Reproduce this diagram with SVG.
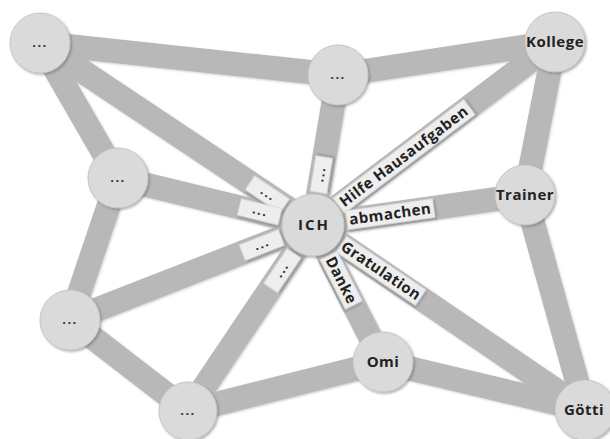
<svg xmlns="http://www.w3.org/2000/svg" width="610" height="439" viewBox="0 0 610 439">
<defs>
<filter id="sh" x="-20%" y="-20%" width="150%" height="150%">
<feDropShadow dx="1.5" dy="1.5" stdDeviation="1.2" flood-color="#555" flood-opacity="0.45"/>
</filter>
<filter id="esh" x="-5%" y="-5%" width="110%" height="110%">
<feDropShadow dx="1" dy="1" stdDeviation="1" flood-color="#777" flood-opacity="0.35"/>
</filter>
</defs>
<style>
.e{stroke:#b8b8b8;stroke-width:24;stroke-linecap:butt;fill:none}
.n{fill:#dadada;stroke:#c6c6c6;stroke-width:1}
.t{font-family:"Open Sans","DejaVu Sans",sans-serif;font-weight:700;font-size:15px;fill:#222;letter-spacing:0.5px;text-anchor:middle}
.d{font-family:"Open Sans","DejaVu Sans",sans-serif;font-weight:700;font-size:13px;fill:#333;letter-spacing:1.5px;text-anchor:middle}
.lb{fill:#eeeeee;stroke:#d4d4d4;stroke-width:0.6}
</style>
<rect width="610" height="439" fill="#ffffff"/>
<g id="connectors" filter="url(#esh)">
<line class="e" x1="40" y1="43" x2="338" y2="75"/>
<line class="e" x1="40" y1="43" x2="118" y2="178"/>
<line class="e" x1="40" y1="43" x2="313" y2="225"/>
<line class="e" x1="338" y1="75" x2="555" y2="42"/>
<line class="e" x1="338" y1="75" x2="313" y2="225"/>
<line class="e" x1="555" y1="42" x2="313" y2="225"/>
<line class="e" x1="555" y1="42" x2="525" y2="195"/>
<line class="e" x1="525" y1="195" x2="313" y2="225"/>
<line class="e" x1="525" y1="195" x2="585" y2="410"/>
<line class="e" x1="118" y1="178" x2="313" y2="225"/>
<line class="e" x1="118" y1="178" x2="70" y2="320"/>
<line class="e" x1="70" y1="320" x2="313" y2="225"/>
<line class="e" x1="70" y1="320" x2="188" y2="411"/>
<line class="e" x1="188" y1="411" x2="313" y2="225"/>
<line class="e" x1="188" y1="411" x2="383" y2="362"/>
<line class="e" x1="383" y1="362" x2="313" y2="225"/>
<line class="e" x1="383" y1="362" x2="585" y2="410"/>
<line class="e" x1="313" y1="225" x2="585" y2="410"/>
</g>
<g id="edge-labels">
<g id="lbl-hilfe" transform="translate(313,225) rotate(-37)">
<rect class="lb" filter="url(#sh)" x="32" y="-9.5" width="164" height="19"/>
<text class="t" x="114" y="5">Hilfe Hausaufgaben</text>
</g>
<g id="lbl-abmachen" transform="translate(313,225) rotate(-8)">
<rect class="lb" filter="url(#sh)" x="34" y="-9.5" width="88" height="19"/>
<text class="t" x="78" y="5">abmachen</text>
</g>
<g id="lbl-gratulation" transform="translate(313,225) rotate(34)">
<rect class="lb" filter="url(#sh)" x="34" y="-9.5" width="96" height="19"/>
<text class="t" x="82" y="5">Gratulation</text>
</g>
<g id="lbl-danke" transform="translate(313,225) rotate(63)">
<rect class="lb" filter="url(#sh)" x="34" y="-9.5" width="56" height="19"/>
<text class="t" x="62" y="5">Danke</text>
</g>
<g id="lbl-top" transform="translate(313,225) rotate(-80.6)">
<rect class="lb" filter="url(#sh)" x="33" y="-8.5" width="36" height="17"/>
<text class="d" x="51.5" y="3">...</text>
</g>
<g id="lbl-tl" transform="translate(313,225) rotate(33.8)">
<rect class="lb" filter="url(#sh)" x="-76" y="-8.5" width="42" height="17"/>
<text class="d" x="-54.5" y="3">...</text>
</g>
<g id="lbl-lm" transform="translate(313,225) rotate(13.8)">
<rect class="lb" filter="url(#sh)" x="-76" y="-8.5" width="42" height="17"/>
<text class="d" x="-54.5" y="3">...</text>
</g>
<g id="lbl-lb" transform="translate(313,225) rotate(-21.4)">
<rect class="lb" filter="url(#sh)" x="-76" y="-8.5" width="42" height="17"/>
<text class="d" x="-54.5" y="3">...</text>
</g>
<g id="lbl-b" transform="translate(313,225) rotate(-56.1)">
<rect class="lb" filter="url(#sh)" x="-76" y="-8.5" width="42" height="17"/>
<text class="d" x="-54.5" y="3">...</text>
</g>
</g>
<g id="node-tl"><circle class="n" filter="url(#sh)" cx="40" cy="43" r="30"/><text class="d" x="40" y="47">...</text></g>
<g id="node-top"><circle class="n" filter="url(#sh)" cx="338" cy="75" r="30"/><text class="d" x="338" y="79">...</text></g>
<g id="node-kollege"><circle class="n" filter="url(#sh)" cx="555" cy="42" r="30"/><text class="t" x="555" y="47">Kollege</text></g>
<g id="node-lm"><circle class="n" filter="url(#sh)" cx="118" cy="178" r="30"/><text class="d" x="118" y="182">...</text></g>
<g id="node-trainer"><circle class="n" filter="url(#sh)" cx="525" cy="195" r="30"/><text class="t" x="525" y="200">Trainer</text></g>
<g id="node-ich"><circle class="n" filter="url(#sh)" cx="313" cy="225" r="31"/><text class="t" x="314" y="230" style="letter-spacing:2px">ICH</text></g>
<g id="node-lb"><circle class="n" filter="url(#sh)" cx="70" cy="320" r="30"/><text class="d" x="70" y="324">...</text></g>
<g id="node-b"><circle class="n" filter="url(#sh)" cx="188" cy="411" r="29"/><text class="d" x="188" y="415">...</text></g>
<g id="node-omi"><circle class="n" filter="url(#sh)" cx="383" cy="362" r="30"/><text class="t" x="383" y="367">Omi</text></g>
<g id="node-goetti"><circle class="n" filter="url(#sh)" cx="585" cy="410" r="30"/><text class="t" x="584" y="415">Götti</text></g>
</svg>
